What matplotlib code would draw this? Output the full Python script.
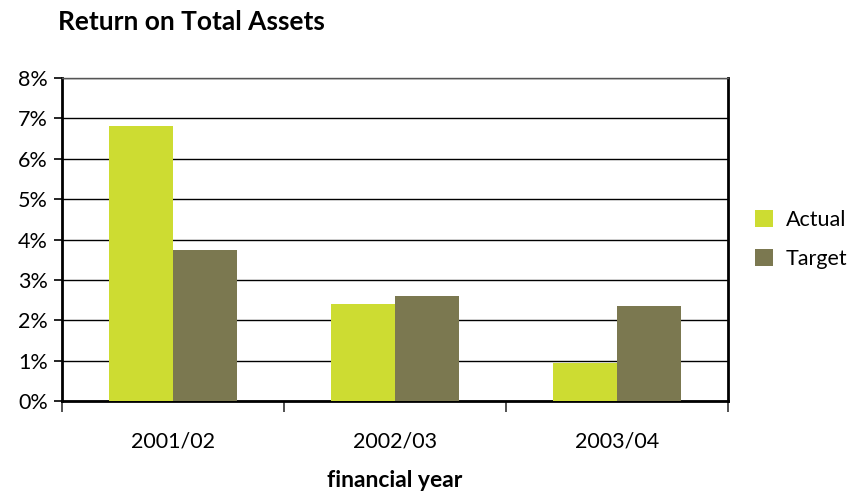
import matplotlib
matplotlib.use("Agg")
import matplotlib.pyplot as plt
import numpy as np
from matplotlib.ticker import FuncFormatter, FixedLocator

years = ["2001/02", "2002/03", "2003/04"]
actual = [6.8, 2.4, 0.93]
target = [3.75, 2.6, 2.35]

ACTUAL_COL = "#cddc32"
TARGET_COL = "#7b7850"

plt.rcParams["font.family"] = ["Lato", "DejaVu Sans"]

fig = plt.figure(figsize=(8.5, 4.99), dpi=100)
ax = fig.add_axes([62 / 850, 1 - 401 / 499, (728 - 62) / 850, (401 - 78) / 499])

x = np.arange(len(years))
w = 0.288
ax.bar(x - w / 2, actual, w, color=ACTUAL_COL, label="Actual", zorder=3)
ax.bar(x + w / 2, target, w, color=TARGET_COL, label="Target", zorder=3)

ax.set_xlim(-0.5, len(years) - 0.5)
ax.set_ylim(0, 8)
ax.set_yticks(range(0, 9))
ax.yaxis.set_major_formatter(FuncFormatter(lambda v, p: f"{int(v)}%"))
ax.grid(axis="y", color="black", linewidth=1.0, zorder=0)

# category labels centred, ticks at boundaries
ax.set_xticks(x)
ax.set_xticklabels(years)
ax.tick_params(axis="x", length=0, pad=22, labelsize=15.5)
ax.xaxis.set_minor_locator(FixedLocator(np.arange(-0.5, len(years), 1.0)))
ax.tick_params(axis="x", which="minor", length=8, width=1.2, color="#333333")
ax.tick_params(axis="y", length=6, width=1.2, pad=4, labelsize=15.5)

for s in ["left", "right", "bottom"]:
    ax.spines[s].set_linewidth(2)
    ax.spines[s].set_color("black")
ax.spines["top"].set_linewidth(1)
ax.spines["top"].set_color("#555555")

ax.set_xlabel("financial year", fontsize=16.5, fontweight="bold", labelpad=13)
fig.text(58 / 850, 1 - 22 / 499, "Return on Total Assets", fontsize=19,
         fontweight="bold", va="center", ha="left")

ax.legend(loc="center left", bbox_to_anchor=(1.012, 0.5), frameon=False,
          fontsize=15.5, handlelength=0.8, handleheight=0.8, labelspacing=0.9,
          handletextpad=0.6)

fig.savefig("out.png", dpi=100)
